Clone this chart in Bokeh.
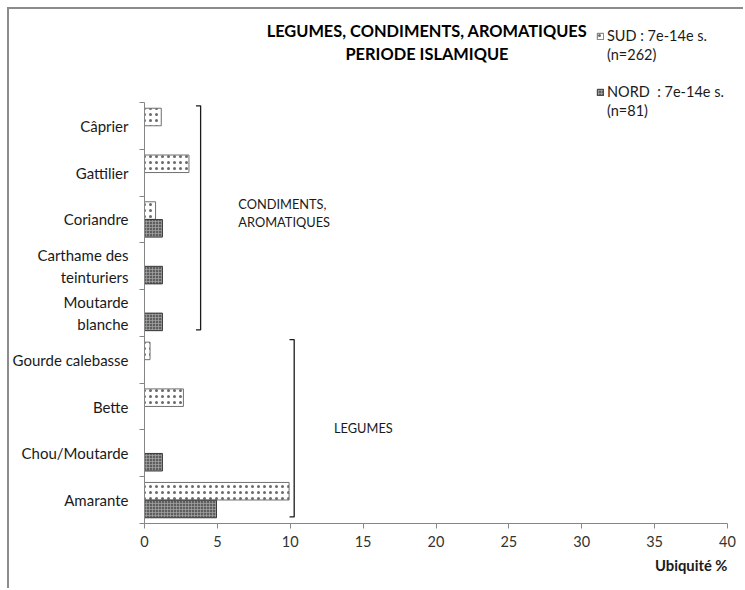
from bokeh.plotting import figure
from bokeh.models import FixedTicker, Label, Legend, LegendItem, ColumnDataSource, Range1d, Title
from bokeh.embed import file_html
from bokeh.resources import INLINE

# ---------------- data ----------------
categories = ["Amarante", "Chou/Moutarde", "Bette", "Gourde calebasse",
              "Moutarde\nblanche", "Carthame des\nteinturiers", "Coriandre",
              "Gattilier", "Câprier"]
sud_values = [9.92, 0.0, 2.67, 0.38, 0.0, 0.0, 0.76, 3.05, 1.15]
nord_values = [4.94, 1.23, 0.0, 0.0, 1.23, 1.23, 1.23, 0.0, 0.0]
x_ticks = [0, 5, 10, 15, 20, 25, 30, 35, 40]
sud_label = ["SUD : 7e-14e s.", "(n=262)"]
nord_label = ["NORD  : 7e-14e s.", "(n=81)"]
title_lines = ["LEGUMES, CONDIMENTS, AROMATIQUES", "PERIODE ISLAMIQUE"]
group_names = ["LEGUMES", "CONDIMENTS,\nAROMATIQUES"]
group_first = [0, 4]
group_last = [3, 8]
x_title = "Ubiquité %"

FONT = "Lato"
TXT = "#1a1a1a"
AX = "#868686"

n = len(categories)
BAR_H = 0.375
OFF = 0.19

def bars(values, offset):
    ys, xs = [], []
    for i, v in enumerate(values):
        if v > 0:
            ys.append(i + 0.5 + offset)
            xs.append(v)
    return ColumnDataSource(dict(y=ys, right=xs))

p = figure(width=736, height=581, output_backend="svg", toolbar_location=None,
           x_range=Range1d(0, 40), y_range=Range1d(0, 10.86),
           min_border_left=134, min_border_right=18, min_border_top=6,
           min_border_bottom=67)
p.styles = {"margin-left": "7px", "margin-top": "7px",
            "border-top": "2px solid #8c8c8c", "border-left": "2px solid #8c8c8c"}
p.outline_line_color = None
p.grid.visible = False
p.background_fill_color = "white"

sud_r = p.hbar(y="y", right="right", left=0, height=BAR_H, source=bars(sud_values, OFF),
               fill_color="white", line_color="#707070", line_width=1,
               hatch_pattern=".", hatch_color="#6a6a6a", hatch_scale=6, hatch_weight=0.5)
nord_r = p.hbar(y="y", right="right", left=0, height=BAR_H, source=bars(nord_values, -OFF),
                fill_color="#5e5e5e", line_color="#3a3a3a", line_width=1,
                hatch_pattern="+", hatch_color="#a8a8a8", hatch_scale=3, hatch_weight=0.7)
blank1 = p.hbar(y="y", right="right", left=0, height=BAR_H,
                source=ColumnDataSource(dict(y=[], right=[])), fill_alpha=0, line_alpha=0)
blank2 = p.hbar(y="y", right="right", left=0, height=BAR_H,
                source=ColumnDataSource(dict(y=[], right=[])), fill_alpha=0, line_alpha=0)

# axes
xa = p.xaxis[0]
xa.ticker = FixedTicker(ticks=x_ticks, minor_ticks=[])
xa.axis_line_color = AX
xa.major_tick_line_color = AX
xa.major_tick_out = 5
xa.major_tick_in = 0
xa.major_label_standoff = 7
xa.major_label_text_font = FONT
xa.major_label_text_font_size = "14.5px"
xa.major_label_text_color = "#333333"

ya = p.yaxis[0]
ya.bounds = (0, n)
ya.ticker = FixedTicker(ticks=[i + 0.5 for i in range(n)], minor_ticks=list(range(n + 1)))
ya.major_label_overrides = {i + 0.5: c for i, c in enumerate(categories)}
ya.axis_line_color = AX
ya.major_tick_line_color = None
ya.major_tick_out = 0
ya.major_tick_in = 0
ya.minor_tick_line_color = AX
ya.minor_tick_out = 5
ya.minor_tick_in = 0
ya.major_label_standoff = 11
ya.major_label_text_font = FONT
ya.major_label_text_font_size = "15px"
ya.major_label_text_color = TXT

# x-axis title, right-aligned under the end of the axis
p.add_layout(Title(text=x_title, align="right", text_font=FONT, text_font_style="bold",
                   text_font_size="14.8px", text_color=TXT, standoff=8, offset=0), "below")

# brackets and group labels
bracket_x = [10.27, 3.85]
label_x = [13.0, 6.44]
label_y = [2.05, 6.64]
xs_list, ys_list = [], []
for g in range(len(group_names)):
    bx = bracket_x[g]
    y0 = group_first[g] + 0.14
    y1 = group_last[g] + 1 - 0.07
    xs_list.append([bx - 0.32, bx, bx, bx - 0.32])
    ys_list.append([y1, y1, y0, y0])
    p.add_layout(Label(x=label_x[g], y=label_y[g], text=group_names[g],
                       text_font=FONT, text_font_size="12.8px", text_color=TXT,
                       text_align="left", text_baseline="middle", text_line_height=1.15))
p.multi_line(xs=xs_list, ys=ys_list, line_color="#1a1a1a", line_width=1.3)

# title
title_y = [10.54, 10.05]
for k, t in enumerate(title_lines):
    p.add_layout(Label(x=19.38, y=title_y[k], text=t, text_font=FONT,
                       text_font_style="bold", text_font_size="16.4px", text_color="black",
                       text_align="center", text_baseline="middle"))

legend_common = dict(orientation="vertical", border_line_color=None,
                     background_fill_alpha=0, padding=0, margin=0, spacing=2,
                     glyph_width=8, glyph_height=8, label_standoff=3, label_height=17,
                     label_text_font=FONT, label_text_font_size="14.5px",
                     label_text_color=TXT)
leg1 = Legend(items=[LegendItem(label=sud_label[0], renderers=[sud_r]),
                     LegendItem(label=sud_label[1], renderers=[blank1])],
              location=(452, 460), **legend_common)
leg2 = Legend(items=[LegendItem(label=nord_label[0], renderers=[nord_r]),
                     LegendItem(label=nord_label[1], renderers=[blank2])],
              location=(452, 404), **legend_common)
p.add_layout(leg1)
p.add_layout(leg2)

open("out.html", "w").write(file_html(p, INLINE))
